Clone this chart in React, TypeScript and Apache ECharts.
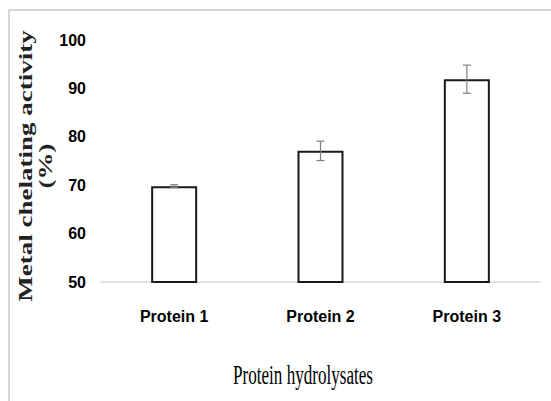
import React, { useEffect, useRef } from "react";
import * as echarts from "echarts";

const categories = ["Protein 1", "Protein 2", "Protein 3"];
const values = [69.8, 77.1, 91.9];
const errors = [0.3, 2.0, 2.9];
const yTicks = { min: 50, max: 100, interval: 10 };
const xTitle = "Protein hydrolysates";
const yTitleLine1 = "Metal chelating activity";
const yTitleLine2 = "(%)";

export default function App() {
  const ref = useRef<HTMLDivElement>(null);
  useEffect(() => {
    if (!ref.current) return;
    const chart = echarts.init(ref.current, null, { renderer: "svg" });
    const errData = values.map((v, i) => [i, v - errors[i], v + errors[i]]);
    const labelFont = "'Liberation Sans', Arial, sans-serif";
    chart.setOption({
      animation: false,
      backgroundColor: "#ffffff",
      grid: { left: 101, right: 11, top: 40, bottom: 119, containLabel: false },
      xAxis: {
        type: "category",
        data: categories,
        axisLine: { show: true, lineStyle: { color: "#d9d9d9", width: 1.5 } },
        axisTick: { show: false },
        axisLabel: {
          color: "#000",
          fontFamily: labelFont,
          fontWeight: "bold",
          fontSize: 16,
          margin: 26,
        },
      },
      yAxis: {
        type: "value",
        min: yTicks.min,
        max: yTicks.max,
        interval: yTicks.interval,
        axisLine: { show: false },
        axisTick: { show: false },
        splitLine: { show: false },
        axisLabel: {
          color: "#000",
          fontFamily: labelFont,
          fontWeight: "bold",
          fontSize: 16,
          margin: 15,
        },
      },
      series: [
        {
          type: "bar",
          data: values,
          barWidth: 46,
          itemStyle: { color: "#ffffff", borderColor: "#1a1a1a", borderWidth: 2 },
        },
        {
          type: "custom",
          data: errData,
          z: 10,
          renderItem: (params: any, api: any) => {
            const x = api.value(0);
            const lo = api.coord([x, api.value(1)]);
            const hi = api.coord([x, api.value(2)]);
            const w = 4;
            const style = { stroke: "#7f7f7f", lineWidth: 1.2 };
            return {
              type: "group",
              children: [
                { type: "line", shape: { x1: lo[0], y1: lo[1], x2: hi[0], y2: hi[1] }, style },
                { type: "line", shape: { x1: lo[0] - w, y1: lo[1], x2: lo[0] + w, y2: lo[1] }, style },
                { type: "line", shape: { x1: hi[0] - w, y1: hi[1], x2: hi[0] + w, y2: hi[1] }, style },
              ],
            };
          },
        },
      ],
      graphic: [
        {
          type: "rect",
          shape: { x: 9, y: 10, width: 560, height: 420 },
          style: { fill: "none", stroke: "#d6d6d6", lineWidth: 2 },
          silent: true,
        },
        {
          type: "text",
          x: 303,
          y: 374,
          scaleX: 0.61,
          style: {
            text: xTitle,
            fontFamily: "'Liberation Serif', 'Times New Roman', serif",
            fontSize: 28,
            fill: "#000",
            align: "center",
            verticalAlign: "middle",
          },
        },
        {
          type: "text",
          x: 26,
          y: 166,
          rotation: Math.PI / 2,
          scaleY: 0.7,
          style: {
            text: yTitleLine1,
            fontFamily: "'Liberation Serif', 'Times New Roman', serif",
            fontWeight: "bold",
            fontSize: 27,
            fill: "#222",
            align: "center",
            verticalAlign: "middle",
          },
        },
        {
          type: "text",
          x: 46,
          y: 166,
          rotation: Math.PI / 2,
          scaleY: 0.7,
          style: {
            text: yTitleLine2,
            fontFamily: "'Liberation Serif', 'Times New Roman', serif",
            fontWeight: "bold",
            fontSize: 27,
            fill: "#222",
            align: "center",
            verticalAlign: "middle",
          },
        },
      ],
    });
    return () => chart.dispose();
  }, []);
  return (
    <div
      ref={ref}
      style={{ position: "fixed", left: 0, top: 0, width: 551, height: 401 }}
    />
  );
}
